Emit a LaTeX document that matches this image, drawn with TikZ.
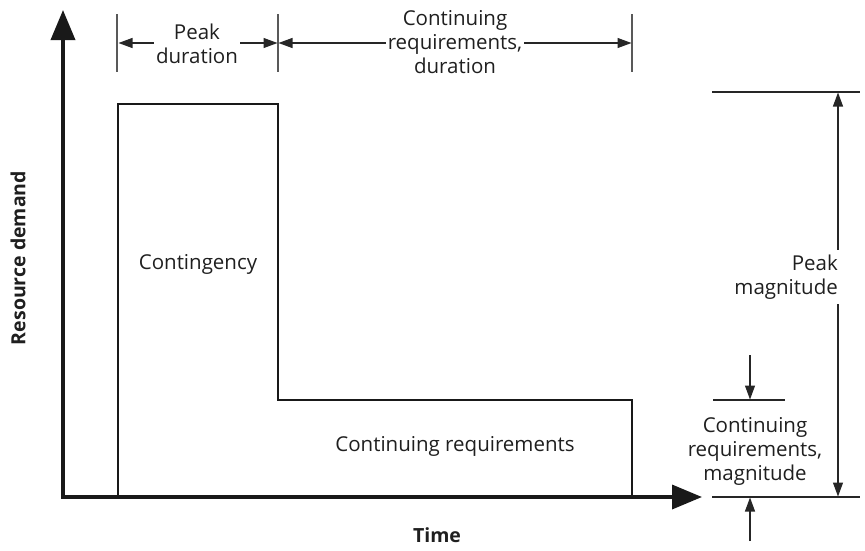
\documentclass[tikz,border=0pt]{standalone}
\usepackage{fontspec}
\setmainfont{Open Sans}
\usetikzlibrary{arrows.meta}
\begin{document}
\begin{tikzpicture}[x=1pt,y=-1pt,
 lbl/.style={font=\fontsize{20.5}{24}\selectfont, align=center, inner sep=2pt, text=black!88},
 bold/.style={font=\fontsize{19.5}{24}\selectfont\bfseries, inner sep=2pt, text=black!88},
 axis/.style={line width=3.6pt, draw=black!90, line join=miter, {Triangle[length=30pt,width=24pt]}-{Triangle[length=30pt,width=24pt]}},
 box/.style={line width=2.8pt, draw=black!90, line join=miter},
 tickln/.style={line width=1.2pt, draw=black!65},
 hline/.style={line width=1.2pt, draw=black!85},
 dim/.style={line width=1.2pt, draw=black!85, -{Triangle[length=14pt,width=10pt]}},
]
\useasboundingbox (0,0) rectangle (865,550);
% axes
\coordinate (o) at (63,497);
\coordinate (ytip) at (63,10);
\coordinate (xtip) at (702,497);
\draw[axis] (ytip) -- (o) -- (xtip);
% profile
\coordinate (b1) at (118,497);
\coordinate (b2) at (118,104);
\coordinate (b3) at (278,104);
\coordinate (b4) at (278,400);
\coordinate (b5) at (632,400);
\coordinate (b6) at (632,497);
\draw[box] (b1) -- (b2) -- (b3) -- (b4) -- (b5) -- (b6);
% duration ticks
\coordinate (t1a) at (117,14); \coordinate (t1b) at (117,72);
\coordinate (t2a) at (278,14); \coordinate (t2b) at (278,72);
\coordinate (t3a) at (632,14); \coordinate (t3b) at (632,72);
\draw[tickln] (t1a) -- (t1b);
\draw[tickln] (t2a) -- (t2b);
\draw[tickln] (t3a) -- (t3b);
% peak duration
\node[lbl] (pd) at (197,44) {Peak\\duration};
\coordinate (pdl) at (118.5,43);
\coordinate (pdr) at (277.5,43);
\draw[dim] (pd.west |- pdl) -- (pdl);
\draw[dim] (pd.east |- pdr) -- (pdr);
% continuing duration
\node[lbl] (cd) at (455,42) {Continuing\\requirements,\\duration};
\coordinate (cdl) at (278.5,43);
\coordinate (cdr) at (631.5,43);
\draw[dim] (cd.west |- cdl) -- (cdl);
\draw[dim] (cd.east |- cdr) -- (cdr);
% region labels
\node[lbl] (cg) at (198,264) {Contingency};
\node[lbl] (cr) at (455,446) {Continuing requirements};
% axis labels
\node[bold, rotate=90] (rd) at (18,258) {Resource demand};
\node[bold] (tm) at (437,535) {Time};
% reference lines on right
\coordinate (h1a) at (712,92); \coordinate (h1b) at (860,92);
\coordinate (h2a) at (712,497); \coordinate (h2b) at (860,497);
\coordinate (h3a) at (713,400); \coordinate (h3b) at (785,400);
\draw[hline] (h1a) -- (h1b);
\draw[hline] (h2a) -- (h2b);
\draw[hline] (h3a) -- (h3b);
% peak magnitude
\node[lbl, align=right, anchor=east, inner sep=1pt] (pm) at (839,277) {Peak\\magnitude};
\coordinate (pmt) at (838,92.5);
\coordinate (pmb) at (838,496.5);
\draw[dim] (pm.north -| pmt) ++(0,-4) -- (pmt);
\draw[dim] (pm.south -| pmb) ++(0,4) -- (pmb);
% continuing magnitude
\node[lbl] (cm) at (755,451) {Continuing\\requirements,\\magnitude};
\coordinate (cmt0) at (750,355); \coordinate (cmt) at (750,399.5);
\coordinate (cmb0) at (750,541); \coordinate (cmb) at (750,497.5);
\draw[dim] (cmt0) -- (cmt);
\draw[dim] (cmb0) -- (cmb);
\end{tikzpicture}
\end{document}
